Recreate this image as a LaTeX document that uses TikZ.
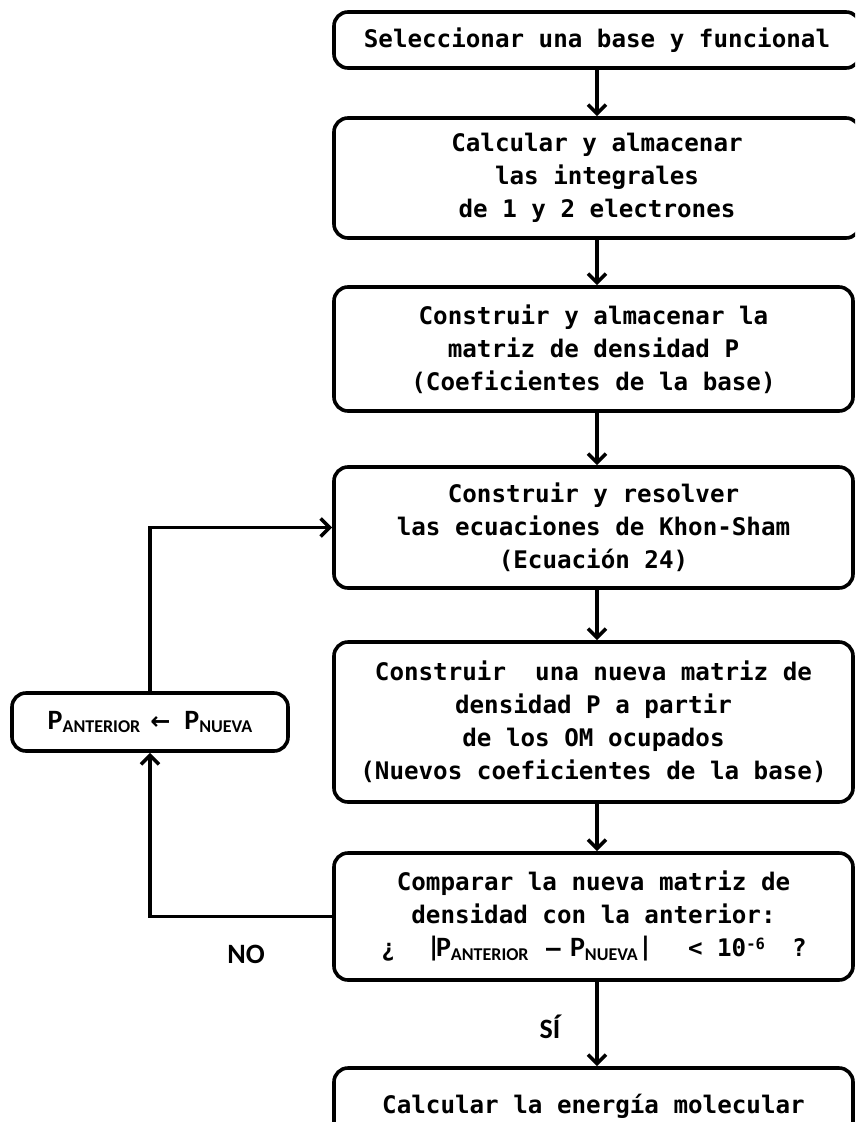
\documentclass[tikz,border=0pt]{standalone}
\usepackage{fontspec}
\usetikzlibrary{arrows.meta}
\newfontfamily\monob{DejaVu Sans Mono}
\newfontfamily\calib{Carlito}
\newfontfamily\djv{DejaVu Sans}
\newcommand{\Psub}[1]{{\calib\bfseries\fontsize{28}{28}\selectfont P}\raisebox{-0.25ex}{\calib\bfseries\fontsize{18}{18}\selectfont #1}}
\newcommand{\bigbar}{{\calib\bfseries\fontsize{28}{28}\selectfont|}}
\begin{document}
\begin{tikzpicture}[x=1pt,y=1pt,
  box/.style={draw, line width=3.6pt, rounded corners=14pt, inner sep=0pt, align=center,
    font=\monob\bfseries\fontsize{24.2}{33}\selectfont},
  arr/.style={line width=3.6pt, -{Straight Barb[length=9pt,width=18pt,line width=3.6pt]}},
  lbl/.style={font=\calib\bfseries\fontsize{28}{28}\selectfont, inner sep=0pt}]
\useasboundingbox (0,0) rectangle (855,-1122);
\clip (0,0) rectangle (855,-1122);
\coordinate (ax) at (597,0);
\node[box, minimum width=526pt, minimum height=56pt] (b1) at (597,-40) {Seleccionar una base y funcional};
\node[box, minimum width=526pt, minimum height=120pt] (b2) at (597,-178) {Calcular y almacenar\\las integrales\\de 1 y 2 electrones};
\node[box, minimum width=519pt, minimum height=124pt] (b3) at (593.5,-349) {Construir y almacenar la\\matriz de densidad P\\(Coeficientes de la base)};
\node[box, minimum width=519pt, minimum height=121pt] (b4) at (593.5,-527.5) {Construir y resolver\\las ecuaciones de Khon-Sham\\(Ecuación 24)};
\node[box, minimum width=519pt, minimum height=160pt] (b5) at (593.5,-722) {Construir\ \ una nueva matriz de\\densidad P a partir\\de los OM ocupados\\(Nuevos coeficientes de la base)};
\node[box, minimum width=519pt, minimum height=127pt] (b6) at (593.5,-916.5) {Comparar la nueva matriz de\\densidad con la anterior:\\\makebox[425pt][l]{\rlap{¿}\hspace{46pt}\rlap{\bigbar}\hspace{9pt}\rlap{\Psub{ANTERIOR}}\hspace{110pt}\rlap{–}\hspace{24pt}\rlap{\Psub{NUEVA}\hspace{1pt}\bigbar}\hspace{118pt}\rlap{< 10\raisebox{0.6ex}{\fontsize{15.5}{15.5}\selectfont -6}}\hspace{104pt}\rlap{?}\hspace{14pt}}};
\node[box, minimum width=519pt, minimum height=76pt] (b7) at (593.5,-1106) {Calcular la energía molecular};
\node[box, minimum width=276pt, minimum height=58pt] (lb) at (150,-722) {\Psub{ANTERIOR}\hspace{10pt}{\djv\bfseries\fontsize{24}{24}\selectfont ←}\hspace{14pt}\Psub{NUEVA}};
\draw[arr] (b1.south -| ax) -- (b2.north -| ax);
\draw[arr] (b2.south -| ax) -- (b3.north -| ax);
\draw[arr] (b3.south -| ax) -- (b4.north -| ax);
\draw[arr] (b4.south -| ax) -- (b5.north -| ax);
\draw[arr] (b5.south -| ax) -- (b6.north -| ax);
\draw[arr] (b6.south -| ax) -- (b7.north -| ax);
\draw[arr] (b6.west) -| (lb.south);
\draw[arr] (lb.north) |- (b4.west);
\node[lbl] (no) at (246,-954) {NO};
\node[lbl] (si) at (550,-1027) {SÍ};
\end{tikzpicture}
\end{document}
